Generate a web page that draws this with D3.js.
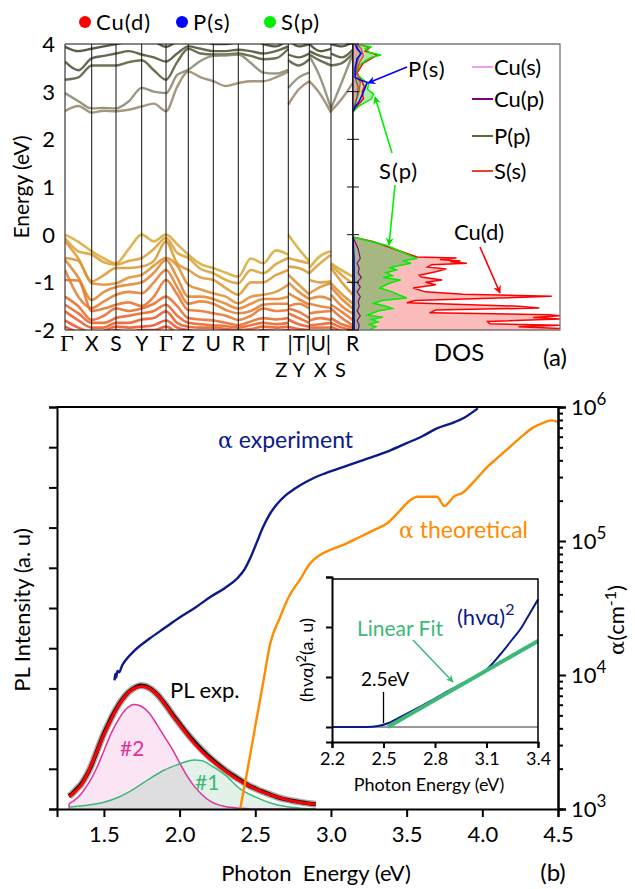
<!DOCTYPE html>
<meta charset="utf-8">
<title>Band structure, DOS and absorption</title>
<style>
body { margin: 0; background: #fff; }
svg { font-family: Lato, "Open Sans", sans-serif; }
.pre { white-space: pre; }
</style>
<body>
<div id="chart"></div>
<script src="https://d3js.org/d3.v7.min.js"></script>
<script>
// ---------- panel (a): band structure ----------
// k-path distances of the high-symmetry points
var kPath = [0, 0.267, 0.51, 0.767, 1.01, 1.233, 1.483, 1.733, 1.983, 2.233, 2.443, 2.66, 2.877];
var kLabels = ["Γ", "X", "S", "Y", "Γ", "Z", "U", "R", "T", "", "|T|U|", "", "R"];
var kLabels2 = ["Z", "Y", "X", "S"];
var energyTicks = [4, 3, 2, 1, 0, -1, -2];

// band energies (eV): piece A  Γ m X m S m Y m Γ m Z m U m R m T m Z | Y m T | U m X | S m R
var valenceBands = [
  [0, -0.15, -0.35, -0.5, -0.6, -0.3, 0.0, -0.14, 0.0, -0.2, -0.42, -0.62, -0.7, -0.8, -0.88, -0.5, -0.6, -0.33, -0.42, 0.0, -0.3, -0.56, -0.7, -0.45, -0.35, -0.6, -0.75, -0.88],
  [-0.07, -0.35, -0.42, -0.58, -0.63, -0.55, -0.49, -0.3, -0.07, -0.38, -0.49, -0.72, -0.81, -0.95, -1.02, -0.74, -0.81, -0.62, -0.49, -0.49, -0.55, -0.6, -0.81, -0.6, -0.42, -0.63, -0.85, -1.02],
  [-0.14, -0.5, -0.98, -0.85, -0.7, -0.7, -0.67, -0.55, -0.14, -0.6, -0.74, -0.9, -0.95, -1.12, -1.26, -1.0, -1.0, -0.85, -0.74, -0.67, -0.7, -0.81, -0.95, -1.0, -0.98, -0.7, -1.0, -1.26],
  [-0.49, -0.55, -1.02, -1.05, -1.02, -0.9, -0.84, -0.65, -0.49, -0.65, -1.05, -1.15, -1.23, -1.3, -1.44, -1.3, -1.26, -1.2, -1.05, -0.84, -1.05, -1.26, -1.23, -1.1, -1.02, -1.02, -1.25, -1.44],
  [-0.53, -0.9, -1.37, -1.2, -1.1, -1.05, -1.0, -0.8, -0.53, -0.9, -1.3, -1.3, -1.35, -1.45, -1.55, -1.45, -1.35, -1.35, -1.3, -1.0, -1.2, -1.35, -1.35, -1.3, -1.37, -1.1, -1.35, -1.55],
  [-0.74, -1.3, -1.54, -1.4, -1.26, -1.2, -1.23, -1.0, -0.74, -1.1, -1.45, -1.4, -1.45, -1.58, -1.65, -1.6, -1.47, -1.45, -1.45, -1.23, -1.35, -1.47, -1.45, -1.5, -1.54, -1.26, -1.5, -1.65],
  [-0.95, -0.96, -1.6, -1.55, -1.47, -1.42, -1.5, -1.3, -0.95, -1.25, -1.58, -1.6, -1.65, -1.7, -1.79, -1.7, -1.55, -1.6, -1.58, -1.5, -1.45, -1.55, -1.65, -1.62, -1.6, -1.47, -1.62, -1.79],
  [-1.3, -1.5, -1.79, -1.7, -1.55, -1.6, -1.55, -1.45, -1.3, -1.5, -1.75, -1.78, -1.8, -1.85, -1.9, -1.82, -1.75, -1.78, -1.75, -1.55, -1.62, -1.75, -1.8, -1.75, -1.79, -1.55, -1.75, -1.9],
  [-1.47, -1.65, -1.85, -1.85, -1.75, -1.7, -1.65, -1.6, -1.47, -1.7, -1.85, -1.88, -1.9, -1.92, -1.95, -1.9, -1.85, -1.88, -1.85, -1.65, -1.75, -1.85, -1.9, -1.88, -1.85, -1.75, -1.88, -1.95],
  [-1.61, -1.8, -1.95, -1.95, -1.85, -1.85, -1.78, -1.75, -1.61, -1.85, -1.93, -1.95, -1.95, -1.98, -2.0, -1.98, -1.93, -1.95, -1.93, -1.78, -1.88, -1.93, -1.95, -1.95, -1.95, -1.85, -1.95, -2.0],
  [-1.8, -1.95, -2.05, -2.02, -1.93, -1.95, -1.93, -1.9, -1.8, -1.95, -2.0, -2.05, -2.05, -2.05, -2.05, -2.05, -2.0, -2.02, -2.0, -1.93, -1.98, -2.0, -2.05, -2.05, -2.05, -1.93, -2.02, -2.05],
  [-1.93, -2.05, -2.1, -2.1, -2.0, -2.05, -2.0, -2.0, -1.93, -2.05, -2.1, -2.1, -2.1, -2.1, -2.1, -2.1, -2.05, -2.08, -2.1, -2.0, -2.05, -2.05, -2.1, -2.1, -2.1, -2.0, -2.08, -2.1]
];
var conductionBands = [
  [2.59, 2.7, 2.56, 2.6, 2.59, 2.62, 2.69, 2.75, 2.59, 3.1, 3.42, 3.3, 3.22, 3.12, 3.18, 3.22, 3.22, 3.3, 3.42, 2.73, 3.05, 3.22, 3.22, 2.95, 2.56, 2.59, 2.85, 3.18],
  [2.97, 2.8, 2.65, 2.66, 2.65, 2.8, 3.08, 3.0, 2.97, 3.35, 3.46, 3.65, 3.75, 3.76, 3.78, 3.6, 3.4, 3.38, 3.46, 3.08, 3.3, 3.4, 3.75, 3.3, 2.65, 2.65, 3.2, 3.78],
  [3.25, 3.3, 3.55, 3.55, 3.55, 3.62, 3.66, 3.45, 3.25, 3.62, 3.9, 3.8, 3.78, 3.78, 3.8, 3.75, 3.68, 3.7, 3.9, 3.66, 3.55, 3.68, 3.78, 3.65, 3.55, 3.55, 3.6, 3.8],
  [3.63, 3.45, 3.7, 3.75, 3.8, 3.85, 3.78, 3.72, 3.63, 3.8, 3.95, 3.9, 3.85, 3.85, 3.88, 3.85, 3.8, 3.85, 3.95, 3.78, 3.72, 3.8, 3.85, 3.75, 3.7, 3.8, 3.72, 3.88],
  [3.94, 3.85, 3.9, 3.95, 4.0, 4.05, 4.1, 4.05, 3.94, 4.05, 4.1, 4.1, 4.0, 4.0, 4.05, 4.1, 4.0, 3.95, 4.1, 4.1, 3.95, 4.0, 4.0, 3.85, 3.9, 4.0, 3.95, 4.05]
];
var conductionColors = ["#9a8468", "#85866c", "#57573a", "#4b4f30", "#3e4226"];

// projected DOS: [energy (eV), DOS (arb.)]
var dosCuD = [[-0.05,0],[-0.15,1.0],[-0.27,1.8],[-0.38,2.5],[-0.47,3.1],[-0.49,5.0],[-0.52,4.2],[-0.55,5.2],[-0.57,4.7],[-0.6,5.5],[-0.63,3.8],[-0.68,3.6],[-0.72,4.5],[-0.78,4.0],[-0.85,3.2],[-0.89,3.3],[-0.95,4.3],[-1.0,3.5],[-1.05,4.0],[-1.12,2.9],[-1.2,3.5],[-1.25,5.3],[-1.29,9.6],[-1.33,7.0],[-1.38,3.0],[-1.43,2.6],[-1.5,8.0],[-1.54,9.0],[-1.58,4.0],[-1.64,3.7],[-1.68,9.5],[-1.7,10],[-1.74,8.7],[-1.77,10],[-1.82,6.5],[-1.87,6.6],[-1.9,10],[-1.93,8.0],[-1.97,10],[-2.0,10],
  [2.58,0],[2.7,0.2],[2.85,0.5],[3.0,0.45],[3.1,0.55],[3.2,0.45],[3.3,0.3],[3.4,0.2],[3.5,0.35],[3.6,0.5],[3.7,0.9],[3.77,1.2],[3.85,0.6],[3.92,0.8],[4.0,0.3]];
var dosSp = [[-0.05,0],[-0.15,0.9],[-0.22,1.6],[-0.35,2.3],[-0.47,2.9],[-0.5,3.1],[-0.55,2.4],[-0.6,2.8],[-0.65,2.2],[-0.69,1.8],[-0.74,2.1],[-0.8,1.6],[-0.86,1.9],[-0.9,1.45],[-0.95,2.3],[-1.0,1.9],[-1.05,1.6],[-1.12,1.3],[-1.2,1.9],[-1.26,2.2],[-1.33,2.6],[-1.38,1.4],[-1.44,1.0],[-1.5,1.6],[-1.55,1.9],[-1.6,1.2],[-1.69,0.7],[-1.73,1.45],[-1.78,0.9],[-1.83,1.2],[-1.88,0.8],[-1.93,1.1],[-2.0,0.8],
  [2.58,0],[2.7,0.3],[2.85,0.9],[2.95,1.0],[3.05,0.7],[3.15,0.75],[3.25,0.5],[3.32,0.3],[3.38,0.15],[3.45,0.2],[3.55,0.3],[3.65,0.6],[3.72,0.9],[3.77,1.35],[3.82,0.8],[3.9,0.6],[3.94,0.9],[3.98,0.3],[4.0,0.2]];
var dosPs = [[-0.05,0],[-0.5,0.05],[-1.0,0.06],[-1.5,0.05],[-2.0,0.06],
  [2.58,0],[2.68,0.1],[2.8,0.3],[2.97,0.48],[3.1,0.6],[3.2,0.68],[3.25,0.3],[3.3,0.1],[3.5,0.1],[3.7,0.2],[3.8,0.4],[3.9,0.2],[4.0,0.1]];
var dosCuP = [[-0.05,0],[-0.3,0.25],[-0.5,0.35],[-0.6,0.2],[-0.7,0.3],[-0.8,0.25],[-0.9,0.4],[-1.0,0.2],[-1.1,0.35],[-1.2,0.2],[-1.3,0.35],[-1.4,0.25],[-1.5,0.3],[-1.6,0.2],[-1.7,0.35],[-1.8,0.2],[-1.9,0.3],[-2.0,0.25]];
var dosSs = [[2.58,0],[2.8,0.15],[3.0,0.3],[3.2,0.35],[3.4,0.15],[3.6,0.3],[3.75,0.5],[3.9,0.4],[4.0,0.2]];
var dosPp = [[2.58,0],[2.9,0.2],[3.1,0.25],[3.3,0.1],[3.6,0.2],[3.8,0.35],[4.0,0.15]];
var dosCuS = [[2.58,0],[3.0,0.05],[3.5,0.05],[4.0,0.05]];

// ---------- panel (b): PL and absorption ----------
var photonTicks = [1.5, 2.0, 2.5, 3.0, 3.5, 4.0, 4.5];
// [photon energy (eV), log10 alpha (cm^-1)]
var alphaExp = [[1.57,3.96],[1.575,4.01],[1.58,3.98],[1.59,4.03],[1.6,4.02],[1.62,4.07],[1.65,4.12],[1.7,4.18],[1.8,4.27],[1.9,4.35],[2.0,4.43],[2.1,4.5],[2.2,4.58],[2.3,4.65],[2.38,4.72],[2.43,4.79],[2.47,4.88],[2.51,4.99],[2.55,5.1],[2.59,5.19],[2.64,5.27],[2.7,5.34],[2.76,5.39],[2.85,5.45],[2.95,5.5],[3.05,5.54],[3.15,5.58],[3.28,5.63],[3.4,5.68],[3.5,5.73],[3.6,5.78],[3.7,5.84],[3.8,5.88],[3.88,5.92],[3.97,5.99]];
var alphaTheo = [[2.4,3.0],[2.45,3.3],[2.5,3.62],[2.55,3.93],[2.6,4.24],[2.66,4.42],[2.72,4.58],[2.8,4.72],[2.86,4.83],[2.92,4.89],[3.01,4.94],[3.1,4.98],[3.19,5.03],[3.3,5.09],[3.37,5.13],[3.45,5.22],[3.52,5.3],[3.57,5.33],[3.7,5.33],[3.75,5.26],[3.78,5.29],[3.81,5.33],[3.87,5.36],[3.95,5.45],[4.03,5.55],[4.1,5.62],[4.16,5.68],[4.25,5.77],[4.34,5.85],[4.4,5.88],[4.45,5.9],[4.5,5.89]];
// PL intensity (a.u.)
var plExp = [[1.27,0.32],[1.29,0.38],[1.32,0.5],[1.35,0.62],[1.38,0.8],[1.41,1.02],[1.44,1.3],[1.47,1.6],[1.5,1.88],[1.53,2.12],[1.56,2.35],[1.59,2.55],[1.62,2.72],[1.65,2.86],[1.68,2.96],[1.71,3.03],[1.74,3.07],[1.77,3.06],[1.8,3.01],[1.83,2.93],[1.86,2.82],[1.89,2.68],[1.92,2.53],[1.95,2.37],[1.98,2.22],[2.01,2.07],[2.05,1.88],[2.1,1.66],[2.15,1.46],[2.2,1.28],[2.25,1.12],[2.3,0.97],[2.35,0.84],[2.4,0.72],[2.45,0.6],[2.5,0.51],[2.55,0.43],[2.6,0.36],[2.65,0.29],[2.7,0.24],[2.75,0.2],[2.8,0.17],[2.85,0.14],[2.9,0.12]];
var plFit = [[1.27,0.3],[1.3,0.4],[1.35,0.6],[1.4,0.95],[1.45,1.4],[1.5,1.85],[1.55,2.25],[1.6,2.6],[1.65,2.85],[1.7,3.0],[1.75,3.05],[1.8,3.0],[1.85,2.85],[1.9,2.62],[1.95,2.35],[2.0,2.1],[2.05,1.85],[2.1,1.62],[2.15,1.42],[2.2,1.25],[2.3,0.95],[2.4,0.7],[2.5,0.5],[2.6,0.35],[2.7,0.24],[2.8,0.16],[2.9,0.12]];
var plPeak2 = [[1.27,0],[1.27,0.12],[1.3,0.2],[1.35,0.38],[1.4,0.65],[1.45,1.0],[1.5,1.45],[1.55,1.9],[1.6,2.25],[1.65,2.5],[1.7,2.6],[1.75,2.55],[1.8,2.38],[1.85,2.1],[1.9,1.8],[1.95,1.5],[2.0,1.15],[2.05,0.82],[2.1,0.55],[2.15,0.35],[2.2,0.2],[2.3,0.06],[2.4,0.02],[2.5,0],[2.9,0]];
var plPeak1 = [[1.27,0.05],[1.4,0.1],[1.5,0.17],[1.6,0.3],[1.7,0.5],[1.8,0.75],[1.9,0.97],[2.0,1.12],[2.05,1.19],[2.1,1.22],[2.15,1.2],[2.2,1.1],[2.3,0.85],[2.4,0.5],[2.5,0.3],[2.6,0.15],[2.7,0.06],[2.8,0.02],[2.9,0]];
// inset: (h nu alpha)^2 and its linear fit
var insetTicks = [2.2, 2.5, 2.8, 3.1, 3.4];
var tauc = [[2.2,0],[2.4,0],[2.47,0.02],[2.53,0.08],[2.6,0.2],[2.7,0.38],[2.8,0.57],[2.9,0.76],[3.0,0.94],[3.05,1.03],[3.1,1.15],[3.18,1.45],[3.25,1.75],[3.3,1.97],[3.34,2.2],[3.4,2.55]];
var taucFit = [[2.525,0],[3.4,1.72]];
var gapEnergy = 2.5;

// ---------- drawing ----------
var svg = d3.select("#chart").append("svg")
    .attr("width", 635).attr("height", 889);

var defs = svg.append("defs");
[["blue","#0000ff"],["lime","#00e000"],["red","#ff0000"],["fit","#3cb878"]].forEach(function(m) {
  defs.append("marker").attr("id", "arr-" + m[0])
      .attr("viewBox", "0 0 10 10").attr("refX", 9).attr("refY", 5)
      .attr("markerWidth", 5).attr("markerHeight", 5).attr("orient", "auto")
    .append("path").attr("d", "M0,0L10,5L0,10L3,5Z").attr("fill", m[1]);
});

// ----- panel (a) -----
var xK = d3.scaleLinear().domain([0, kPath[kPath.length - 1]]).range([65, 352.7]);
var yE = d3.scaleLinear().domain([-2, 4]).range([330, 44]);
var xD = d3.scaleLinear().domain([0, 10]).range([353, 560]);

defs.append("clipPath").attr("id", "clipBand").append("rect")
    .attr("x", 65).attr("y", 44).attr("width", 288).attr("height", 286);
defs.append("clipPath").attr("id", "clipDos").append("rect")
    .attr("x", 353).attr("y", 44).attr("width", 207).attr("height", 286);

// k sample positions for the four continuous pieces of the path
function mid(a, b) { return (kPath[a] + kPath[b]) / 2; }
var pieces = [];
var pa = [];
for (var i = 0; i <= 9; i++) { pa.push(kPath[i]); if (i < 9) pa.push(mid(i, i + 1)); }
pieces.push({start: 0, k: pa});
pieces.push({start: 19, k: [kPath[9], mid(9, 10), kPath[10]]});
pieces.push({start: 22, k: [kPath[10], mid(10, 11), kPath[11]]});
pieces.push({start: 25, k: [kPath[11], mid(11, 12), kPath[12]]});

var bandLine = d3.line().x(function(d) { return xK(d[0]); }).y(function(d) { return yE(d[1]); })
    .curve(d3.curveMonotoneX);

var gBand = svg.append("g").attr("clip-path", "url(#clipBand)");
var vColor = d3.scaleLinear().domain([0, valenceBands.length - 1]).range(["#d7a832", "#f2421c"]);

function drawBand(vals, color, w) {
  pieces.forEach(function(p) {
    var pts = p.k.map(function(k, j) { return [k, vals[p.start + j]]; });
    gBand.append("path").attr("d", bandLine(pts))
        .attr("fill", "none").attr("stroke", color).attr("stroke-width", w)
        .attr("stroke-opacity", 0.85);
  });
}
valenceBands.slice().reverse().forEach(function(b, i) {
  drawBand(b, vColor(valenceBands.length - 1 - i), 2.6);
});
conductionBands.slice().reverse().forEach(function(b, i) {
  drawBand(b, conductionColors[conductionBands.length - 1 - i], 2.4);
});

// vertical lines at the high-symmetry points
svg.append("g").selectAll("line").data(kPath).enter().append("line")
    .attr("x1", function(d) { return xK(d); }).attr("x2", function(d) { return xK(d); })
    .attr("y1", 44).attr("y2", 330).attr("stroke", "#111").attr("stroke-width", 1);
svg.append("line").attr("x1", 65).attr("x2", 353).attr("y1", 44).attr("y2", 44).attr("stroke", "#111").attr("stroke-width", 1.2);
svg.append("line").attr("x1", 65).attr("x2", 353).attr("y1", 330).attr("y2", 330).attr("stroke", "#111").attr("stroke-width", 1.2);

// energy tick labels
svg.append("g").selectAll("text").data(energyTicks).enter().append("text")
    .attr("x", 55).attr("y", function(d) { return yE(d) + 8; })
    .attr("text-anchor", "end").attr("font-size", 22)
    .text(function(d) { return d; });
svg.append("text").attr("transform", "translate(29,187) rotate(-90)")
    .attr("text-anchor", "middle").attr("font-size", 21).text("Energy (eV)");

// k labels
var kRow = svg.append("g").attr("font-size", 22).attr("text-anchor", "middle");
kLabels.forEach(function(l, i) {
  if (!l) return;
  kRow.append("text").attr("x", xK(kPath[i]) + (i === 0 ? 2 : 0)).attr("y", 351)
      .attr("font-family", l === "Γ" ? "'Liberation Serif', serif" : null)
      .attr("font-size", l === "Γ" ? 24 : 21)
      .text(l);
});
[[kPath[9] - 0.07, 0], [mid(9, 10), 1], [mid(10, 11), 2], [mid(11, 12) - 0.015, 3]].forEach(function(p) {
  kRow.append("text").attr("x", xK(p[0])).attr("y", 377).attr("font-size", 20).text(kLabels2[p[1]]);
});

// DOS panel
var gDos = svg.append("g").attr("clip-path", "url(#clipDos)");
function split(arr) {
  return [arr.filter(function(d) { return d[0] <= 0.5; }), arr.filter(function(d) { return d[0] > 0.5; })];
}
var dosArea = d3.area().y(function(d) { return yE(d[0]); })
    .x0(xD(0)).x1(function(d) { return xD(d[1]); });
var dosLine = d3.line().y(function(d) { return yE(d[0]); }).x(function(d) { return xD(d[1]); });

split(dosCuD).forEach(function(s) {
  gDos.append("path").attr("d", dosArea(s)).attr("fill", "#fbbcbc");
});
split(dosSp).forEach(function(s, i) {
  gDos.append("path").attr("d", dosArea(s)).attr("fill", i === 0 ? "#9db67a" : "#a8e8a0").attr("fill-opacity", 0.9);
});
gDos.append("path").attr("d", dosArea(dosSs)).attr("fill", "#f08080").attr("fill-opacity", 0.5);

function drawDos(arr, color, w) {
  split(arr).forEach(function(s) {
    if (s.length) gDos.append("path").attr("d", dosLine(s)).attr("fill", "none")
        .attr("stroke", color).attr("stroke-width", w);
  });
}
drawDos(dosCuD, "#ff0000", 1.5);
drawDos(dosSp, "#00ee00", 1.5);
drawDos(dosSs, "#e8432f", 1.2);
drawDos(dosPp, "#556b2f", 1.2);
drawDos(dosCuS, "#f0a0f0", 1.2);
drawDos(dosCuP, "#800080", 1.2);
drawDos(dosPs, "#0000ff", 1.5);

// DOS frame
svg.append("path").attr("d", "M353,44H560V330H353").attr("fill", "none")
    .attr("stroke", "#777").attr("stroke-width", 1.3);
svg.append("line").attr("x1", 353).attr("x2", 353).attr("y1", 44).attr("y2", 330)
    .attr("stroke", "#111").attr("stroke-width", 1.3);
svg.append("g").selectAll("line").data(energyTicks).enter().append("line")
    .attr("x1", 347).attr("x2", 359)
    .attr("y1", function(d) { return yE(d); }).attr("y2", function(d) { return yE(d); })
    .attr("stroke", "#111").attr("stroke-width", 1);

svg.append("text").attr("x", 459).attr("y", 361).attr("text-anchor", "middle")
    .attr("font-size", 24).text("DOS");
svg.append("text").attr("x", 555).attr("y", 366).attr("text-anchor", "middle")
    .attr("font-size", 24).text("(a)");

// top legend
var topLegend = [["Cu(d)", "#ff0000", 85], ["P(s)", "#0000ff", 182], ["S(p)", "#00ee00", 270]];
topLegend.forEach(function(l) {
  svg.append("circle").attr("cx", l[2]).attr("cy", 22).attr("r", 6).attr("fill", l[1]);
  svg.append("text").attr("x", l[2] + 11).attr("y", 30).attr("font-size", 22)
      .attr("letter-spacing", 1).text(l[0]);
});

// DOS legend
var dosLegend = [["Cu(s)", "#f0a0f0", 67], ["Cu(p)", "#800080", 99], ["P(p)", "#556b2f", 136], ["S(s)", "#e8432f", 171]];
dosLegend.forEach(function(l) {
  svg.append("line").attr("x1", 472).attr("x2", 493).attr("y1", l[2]).attr("y2", l[2])
      .attr("stroke", l[1]).attr("stroke-width", 2);
  svg.append("text").attr("x", 494).attr("y", l[2] + 8).attr("font-size", 22).text(l[0]);
});

// DOS annotations
svg.append("text").attr("x", 408).attr("y", 77).attr("font-size", 22).attr("letter-spacing", 1).text("P(s)");
svg.append("line").attr("x1", 407).attr("y1", 67).attr("x2", 368).attr("y2", 83)
    .attr("stroke", "#0000ff").attr("stroke-width", 1.6).attr("marker-end", "url(#arr-blue)");
svg.append("text").attr("x", 379).attr("y", 179).attr("font-size", 22).attr("letter-spacing", 1).text("S(p)");
svg.append("line").attr("x1", 392).attr("y1", 153).attr("x2", 375).attr("y2", 97)
    .attr("stroke", "#00ee00").attr("stroke-width", 1.6).attr("marker-end", "url(#arr-lime)");
svg.append("line").attr("x1", 395).attr("y1", 185).attr("x2", 389).attr("y2", 245)
    .attr("stroke", "#00ee00").attr("stroke-width", 1.6).attr("marker-end", "url(#arr-lime)");
svg.append("text").attr("x", 454).attr("y", 240).attr("font-size", 22).text("Cu(d)");
svg.append("line").attr("x1", 480).attr("y1", 247).attr("x2", 500).attr("y2", 293)
    .attr("stroke", "#ff0000").attr("stroke-width", 1.6).attr("marker-end", "url(#arr-red)");

// ----- panel (b) -----
var xP = d3.scaleLinear().domain([1.19, 4.5]).range([57, 558]);
var yPL = d3.scaleLinear().domain([0, 10]).range([809, 407]);
var yA = d3.scaleLog().domain([1e3, 1e6]).range([809, 407]);

var plLine = d3.line().x(function(d) { return xP(d[0]); }).y(function(d) { return yPL(d[1]); }).curve(d3.curveMonotoneX);
var plArea = d3.area().x(function(d) { return xP(d[0]); }).y0(yPL(0)).y1(function(d) { return yPL(d[1]); }).curve(d3.curveMonotoneX);
var aLine = d3.line().x(function(d) { return xP(d[0]); }).y(function(d) { return yA(Math.pow(10, d[1])); }).curve(d3.curveMonotoneX);

svg.append("path").attr("d", plArea(plPeak2)).attr("fill", "#e870c0").attr("fill-opacity", 0.18);
svg.append("path").attr("d", plArea(plPeak1)).attr("fill", "#70c090").attr("fill-opacity", 0.2);
svg.append("path").attr("d", plLine(plPeak2)).attr("fill", "none").attr("stroke", "#e0309a").attr("stroke-width", 1.5);
svg.append("path").attr("d", plLine(plPeak1)).attr("fill", "none").attr("stroke", "#3cb878").attr("stroke-width", 1.5);
svg.append("path").attr("d", plLine(plExp)).attr("fill", "none").attr("stroke", "#8a8a8a").attr("stroke-width", 7).attr("stroke-opacity", 0.7);
svg.append("path").attr("d", plLine(plExp)).attr("fill", "none").attr("stroke", "#111").attr("stroke-width", 4);
svg.append("path").attr("d", plLine(plFit)).attr("fill", "none").attr("stroke", "#ff0000").attr("stroke-width", 3);

svg.append("path").attr("d", aLine(alphaExp)).attr("fill", "none").attr("stroke", "#0a1a8a").attr("stroke-width", 2.4);
svg.append("path").attr("d", aLine(alphaTheo)).attr("fill", "none").attr("stroke", "#ff8c00").attr("stroke-width", 2.4);

// frame and axes
svg.append("line").attr("x1", 57).attr("x2", 558).attr("y1", 407).attr("y2", 407).attr("stroke", "#000").attr("stroke-width", 2);

var axB = svg.append("g").attr("transform", "translate(0,809)")
    .call(d3.axisBottom(xP).tickValues(photonTicks).tickSize(8).tickFormat(d3.format(".1f")));
var axL = svg.append("g").attr("transform", "translate(57,0)")
    .call(d3.axisLeft(yPL).tickValues(d3.range(0, 11)).tickSize(8).tickFormat(""));
var minor = [];
[1e3, 1e4, 1e5].forEach(function(p) { for (var m = 2; m <= 9; m++) minor.push(p * m); });
var axRm = svg.append("g").attr("transform", "translate(558,0)")
    .call(d3.axisRight(yA).tickValues(minor).tickSize(5).tickFormat(""));
var axR = svg.append("g").attr("transform", "translate(558,0)")
    .call(d3.axisRight(yA).tickValues([1e3, 1e4, 1e5, 1e6]).tickSize(8).tickFormat(""));
[axB, axL, axR, axRm].forEach(function(a) {
  a.select(".domain").attr("stroke-width", 2).attr("stroke", "#000");
  a.selectAll(".tick line").attr("stroke-width", 2).attr("stroke", "#000");
});
axB.selectAll(".tick text").attr("font-size", 22).attr("font-family", "Lato, sans-serif").attr("dy", "1.0em").attr("fill", "#000");

[3, 4, 5, 6].forEach(function(e) {
  var t = svg.append("text").attr("x", 571).attr("y", yA(Math.pow(10, e)) + 8).attr("font-size", 22);
  t.append("tspan").text("10");
  t.append("tspan").attr("dy", -10).attr("font-size", 17).text(e);
});

svg.append("text").attr("transform", "translate(30,610) rotate(-90)").attr("text-anchor", "middle")
    .attr("font-size", 22).text("PL Intensity (a. u)");
var aLab = svg.append("text").attr("transform", "translate(624,620) rotate(-90)").attr("text-anchor", "middle")
    .attr("font-size", 22);
aLab.append("tspan").attr("font-family", "'DejaVu Serif', serif").attr("font-size", 21).text("α");
aLab.append("tspan").text("(cm");
aLab.append("tspan").attr("dy", -8).attr("font-size", 16).text("-1");
aLab.append("tspan").attr("dy", 8).text(")");

svg.append("text").attr("class", "pre").attr("x", 316).attr("y", 881).attr("text-anchor", "middle")
    .attr("font-size", 22).text("Photon  Energy (eV)");
svg.append("text").attr("x", 553).attr("y", 881).attr("text-anchor", "middle")
    .attr("font-size", 24).text("(b)");

// curve labels
function alphaLabel(x, y, color, word) {
  var t = svg.append("text").attr("x", x).attr("y", y).attr("font-size", 23).attr("fill", color);
  t.append("tspan").attr("font-family", "'DejaVu Serif', serif").attr("font-size", 22).text("α");
  t.append("tspan").attr("class", "pre").text(" " + word);
}
alphaLabel(218, 448, "#0a1a8a", "experiment");
alphaLabel(399, 538, "#ff8c00", "theoretical");
svg.append("text").attr("x", 170).attr("y", 698).attr("font-size", 22).text("PL exp.");
svg.append("text").attr("x", 120).attr("y", 756).attr("font-size", 21).attr("fill", "#e0309a").text("#2");
svg.append("text").attr("x", 195).attr("y", 790).attr("font-size", 21).attr("fill", "#3cb878").text("#1");

// ----- inset -----
var xI = d3.scaleLinear().domain([2.2, 3.4]).range([332, 538]);
var yI = d3.scaleLinear().domain([-0.3, 3.0]).range([742, 577]);
svg.append("rect").attr("x", 332).attr("y", 579).attr("width", 206).attr("height", 163).attr("fill", "#fff");
svg.append("line").attr("x1", 332).attr("x2", 538).attr("y1", yI(0)).attr("y2", yI(0)).attr("stroke", "#333").attr("stroke-width", 1.2);
var iLine = d3.line().x(function(d) { return xI(d[0]); }).y(function(d) { return yI(d[1]); });
svg.append("path").attr("d", iLine.curve(d3.curveMonotoneX)(tauc)).attr("fill", "none").attr("stroke", "#0a1a8a").attr("stroke-width", 2);
svg.append("path").attr("d", d3.line().x(function(d) { return xI(d[0]); }).y(function(d) { return yI(d[1]); })(taucFit))
    .attr("fill", "none").attr("stroke", "#3cb878").attr("stroke-width", 4);
svg.append("path").attr("d", "M332,579H538V742").attr("fill", "none").attr("stroke", "#000").attr("stroke-width", 1.5);
var iaxB = svg.append("g").attr("transform", "translate(0,742)")
    .call(d3.axisBottom(xI).tickValues(insetTicks).tickSize(6).tickFormat(d3.format(".1f")));
var iaxL = svg.append("g").attr("transform", "translate(332,0)")
    .call(d3.axisLeft(yI).tickValues([0, 1, 2, 3]).tickSize(6).tickFormat(""));
[iaxB, iaxL].forEach(function(a) {
  a.select(".domain").attr("stroke-width", 2).attr("stroke", "#000");
  a.selectAll(".tick line").attr("stroke-width", 2).attr("stroke", "#000");
});
iaxB.selectAll(".tick text").attr("font-size", 18).attr("font-family", "Lato, sans-serif").attr("dy", "0.8em").attr("fill", "#000");
svg.append("text").attr("x", 429).attr("y", 791).attr("text-anchor", "middle").attr("font-size", 18).text("Photon Energy (eV)");
var iy = svg.append("text").attr("transform", "translate(313,660) rotate(-90)").attr("text-anchor", "middle").attr("font-size", 18);
iy.append("tspan").text("(hνα)");
iy.append("tspan").attr("dy", -7).attr("font-size", 13).text("2");
iy.append("tspan").attr("dy", 7).text("(a. u)");

svg.append("text").attr("x", 409).attr("y", 686).attr("text-anchor", "end").attr("font-size", 19).text("2.5eV");
svg.append("line").attr("x1", xI(gapEnergy)).attr("x2", xI(gapEnergy)).attr("y1", 692).attr("y2", 723)
    .attr("stroke", "#000").attr("stroke-width", 1.3);
svg.append("text").attr("x", 443).attr("y", 636).attr("text-anchor", "end").attr("font-size", 21).attr("fill", "#3cb878").text("Linear Fit");
svg.append("line").attr("x1", 413).attr("y1", 640).attr("x2", 453).attr("y2", 682)
    .attr("stroke", "#3cb878").attr("stroke-width", 1.5).attr("marker-end", "url(#arr-fit)");
var hl = svg.append("text").attr("x", 457).attr("y", 625).attr("font-size", 22).attr("fill", "#0a1a8a");
hl.append("tspan").text("(hνα)");
hl.append("tspan").attr("dy", -10).attr("font-size", 16).text("2");
</script>
</body>
